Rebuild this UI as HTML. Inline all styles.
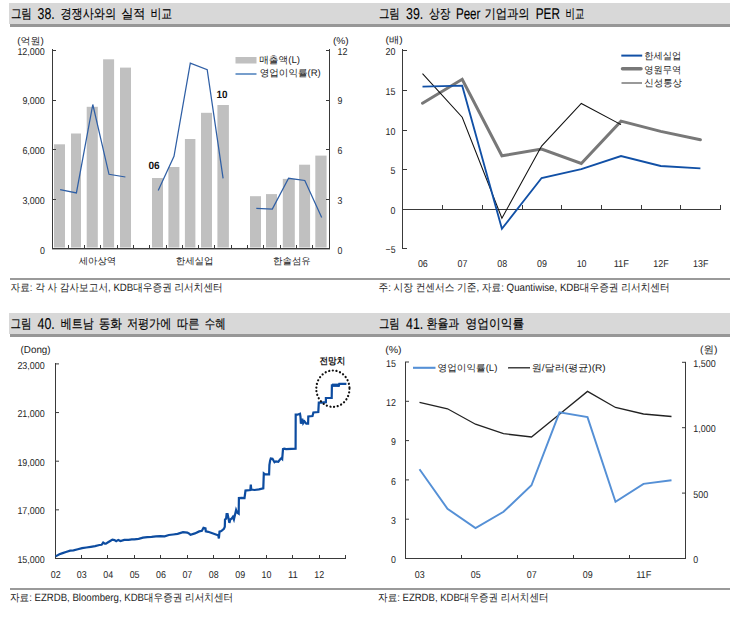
<!DOCTYPE html>
<html><head><meta charset="utf-8"><style>
html,body{margin:0;padding:0;background:#fff;}
body{width:740px;height:617px;overflow:hidden;}
svg{display:block;font-family:'Liberation Sans', sans-serif;text-rendering:geometricPrecision;}
</style></head><body>
<svg width="740" height="617" viewBox="0 0 740 617">
<rect width="740" height="617" fill="#fff"/>
<rect x="9" y="3" width="721" height="21" fill="#d8d8d8"/>
<rect x="10" y="24" width="720" height="3" fill="#979797"/>
<rect x="9" y="313" width="721" height="21" fill="#d8d8d8"/>
<rect x="10" y="334" width="720" height="3" fill="#979797"/>
<text x="10.90" y="18" font-size="13.2" fill="#000" stroke="#000" stroke-width="0.15" textLength="20.90" lengthAdjust="spacingAndGlyphs">그림</text>
<text x="37.60" y="19.3" font-size="15.7" fill="#000" stroke="#000" stroke-width="0.1" textLength="17.10" lengthAdjust="spacingAndGlyphs">38.</text>
<text x="60.40" y="18" font-size="13.2" fill="#000" stroke="#000" stroke-width="0.15" textLength="55.70" lengthAdjust="spacingAndGlyphs">경쟁사와의</text>
<text x="121.20" y="18" font-size="13.2" fill="#000" stroke="#000" stroke-width="0.15" textLength="24.10" lengthAdjust="spacingAndGlyphs">실적</text>
<text x="150.40" y="18" font-size="13.2" fill="#000" stroke="#000" stroke-width="0.15" textLength="21.70" lengthAdjust="spacingAndGlyphs">비교</text>
<text x="378.90" y="18" font-size="13.2" fill="#000" stroke="#000" stroke-width="0.15" textLength="20.90" lengthAdjust="spacingAndGlyphs">그림</text>
<text x="406.10" y="19.3" font-size="15.7" fill="#000" stroke="#000" stroke-width="0.1" textLength="17.20" lengthAdjust="spacingAndGlyphs">39.</text>
<text x="429.00" y="18" font-size="13.2" fill="#000" stroke="#000" stroke-width="0.15" textLength="21.40" lengthAdjust="spacingAndGlyphs">상장</text>
<text x="455.90" y="19.3" font-size="15.7" fill="#000" stroke="#000" stroke-width="0.1" textLength="24.50" lengthAdjust="spacingAndGlyphs">Peer</text>
<text x="484.40" y="18" font-size="13.2" fill="#000" stroke="#000" stroke-width="0.15" textLength="45.20" lengthAdjust="spacingAndGlyphs">기업과의</text>
<text x="535.70" y="19.3" font-size="15.7" fill="#000" stroke="#000" stroke-width="0.1" textLength="24.20" lengthAdjust="spacingAndGlyphs">PER</text>
<text x="565.50" y="18" font-size="13.2" fill="#000" stroke="#000" stroke-width="0.15" textLength="18.80" lengthAdjust="spacingAndGlyphs">비교</text>
<text x="10.60" y="328.2" font-size="13.2" fill="#000" stroke="#000" stroke-width="0.15" textLength="20.90" lengthAdjust="spacingAndGlyphs">그림</text>
<text x="37.60" y="329.1" font-size="15.7" fill="#000" stroke="#000" stroke-width="0.1" textLength="17.20" lengthAdjust="spacingAndGlyphs">40.</text>
<text x="60.70" y="328.2" font-size="13.2" fill="#000" stroke="#000" stroke-width="0.15" textLength="33.00" lengthAdjust="spacingAndGlyphs">베트남</text>
<text x="98.70" y="328.2" font-size="13.2" fill="#000" stroke="#000" stroke-width="0.15" textLength="23.30" lengthAdjust="spacingAndGlyphs">동화</text>
<text x="126.90" y="328.2" font-size="13.2" fill="#000" stroke="#000" stroke-width="0.15" textLength="44.40" lengthAdjust="spacingAndGlyphs">저평가에</text>
<text x="177.10" y="328.2" font-size="13.2" fill="#000" stroke="#000" stroke-width="0.15" textLength="22.50" lengthAdjust="spacingAndGlyphs">따른</text>
<text x="204.70" y="328.2" font-size="13.2" fill="#000" stroke="#000" stroke-width="0.15" textLength="20.90" lengthAdjust="spacingAndGlyphs">수혜</text>
<text x="379.00" y="328.2" font-size="13.2" fill="#000" stroke="#000" stroke-width="0.15" textLength="20.70" lengthAdjust="spacingAndGlyphs">그림</text>
<text x="406.10" y="329.1" font-size="15.7" fill="#000" stroke="#000" stroke-width="0.1" textLength="17.20" lengthAdjust="spacingAndGlyphs">41.</text>
<text x="426.60" y="328.2" font-size="13.2" fill="#000" stroke="#000" stroke-width="0.15" textLength="32.60" lengthAdjust="spacingAndGlyphs">환율과</text>
<text x="465.50" y="328.2" font-size="13.2" fill="#000" stroke="#000" stroke-width="0.15" textLength="58.60" lengthAdjust="spacingAndGlyphs">영업이익률</text>
<rect x="10" y="278" width="720" height="2" fill="#9a9a9a"/>
<rect x="10" y="588" width="720" height="2" fill="#9a9a9a"/>
<text x="10.50" y="291.18" font-size="10.65" font-weight="normal" fill="#222" textLength="212.20" lengthAdjust="spacingAndGlyphs">자료: 각 사 감사보고서, KDB대우증권 리서치센터</text>
<text x="378.50" y="291.18" font-size="10.65" font-weight="normal" fill="#222" textLength="291.20" lengthAdjust="spacingAndGlyphs">주: 시장 컨센서스 기준, 자료: Quantiwise, KDB대우증권 리서치센터</text>
<text x="10.00" y="601.40" font-size="10.54" font-weight="normal" fill="#222" textLength="223.10" lengthAdjust="spacingAndGlyphs">자료: EZRDB, Bloomberg, KDB대우증권 리서치센터</text>
<text x="378.10" y="601.40" font-size="10.54" font-weight="normal" fill="#222" textLength="170.40" lengthAdjust="spacingAndGlyphs">자료: EZRDB, KDB대우증권 리서치센터</text>
<rect x="54" y="144.3" width="11.00" height="103.20" fill="#c0c0c0"/>
<rect x="71" y="133.5" width="10.00" height="114.00" fill="#c0c0c0"/>
<rect x="86.7" y="106.8" width="11.10" height="140.70" fill="#c0c0c0"/>
<rect x="103.1" y="59.3" width="11.00" height="188.20" fill="#c0c0c0"/>
<rect x="120" y="67.6" width="11.00" height="179.90" fill="#c0c0c0"/>
<rect x="152" y="178" width="11.00" height="69.50" fill="#c0c0c0"/>
<rect x="168.4" y="167" width="11.00" height="80.50" fill="#c0c0c0"/>
<rect x="184.9" y="139" width="10.50" height="108.50" fill="#c0c0c0"/>
<rect x="201" y="112.8" width="11.00" height="134.70" fill="#c0c0c0"/>
<rect x="217.4" y="105" width="11.50" height="142.50" fill="#c0c0c0"/>
<rect x="250" y="196.2" width="11.00" height="51.30" fill="#c0c0c0"/>
<rect x="266" y="194.1" width="11.00" height="53.40" fill="#c0c0c0"/>
<rect x="282.8" y="178.9" width="12.00" height="68.60" fill="#c0c0c0"/>
<rect x="299.1" y="164.7" width="11.00" height="82.80" fill="#c0c0c0"/>
<rect x="315.3" y="155.6" width="11.30" height="91.90" fill="#c0c0c0"/>
<rect x="52" y="49" width="1" height="200" fill="#3a3a3a"/>
<rect x="329" y="49" width="1" height="200" fill="#3a3a3a"/>
<rect x="52" y="248" width="278" height="1.4" fill="#3a3a3a"/>
<rect x="52" y="50" width="4" height="1" fill="#3a3a3a"/>
<rect x="326" y="50" width="4" height="1" fill="#3a3a3a"/>
<rect x="52" y="100" width="4" height="1" fill="#3a3a3a"/>
<rect x="326" y="100" width="4" height="1" fill="#3a3a3a"/>
<rect x="52" y="149" width="4" height="1" fill="#3a3a3a"/>
<rect x="326" y="149" width="4" height="1" fill="#3a3a3a"/>
<rect x="52" y="199" width="4" height="1" fill="#3a3a3a"/>
<rect x="326" y="199" width="4" height="1" fill="#3a3a3a"/>
<rect x="68" y="245" width="1" height="3" fill="#3a3a3a"/>
<rect x="84" y="245" width="1" height="3" fill="#3a3a3a"/>
<rect x="100" y="245" width="1" height="3" fill="#3a3a3a"/>
<rect x="117" y="245" width="1" height="3" fill="#3a3a3a"/>
<rect x="133" y="245" width="1" height="3" fill="#3a3a3a"/>
<rect x="149" y="245" width="1" height="3" fill="#3a3a3a"/>
<rect x="166" y="245" width="1" height="3" fill="#3a3a3a"/>
<rect x="182" y="245" width="1" height="3" fill="#3a3a3a"/>
<rect x="198" y="245" width="1" height="3" fill="#3a3a3a"/>
<rect x="214" y="245" width="1" height="3" fill="#3a3a3a"/>
<rect x="231" y="245" width="1" height="3" fill="#3a3a3a"/>
<rect x="247" y="245" width="1" height="3" fill="#3a3a3a"/>
<rect x="263" y="245" width="1" height="3" fill="#3a3a3a"/>
<rect x="280" y="245" width="1" height="3" fill="#3a3a3a"/>
<rect x="296" y="245" width="1" height="3" fill="#3a3a3a"/>
<rect x="312" y="245" width="1" height="3" fill="#3a3a3a"/>
<polyline points="60.1,189.6 76.4,192.9 92.8,104.5 109.0,174.3 125.4,177.0" fill="none" stroke="#2f5fa5" stroke-width="1.25" stroke-linejoin="miter" />
<polyline points="158.2,190.4 174.0,156.3 190.3,63.1 207.2,69.6 223.1,178.4" fill="none" stroke="#2f5fa5" stroke-width="1.25" stroke-linejoin="miter" />
<polyline points="256.3,208.3 272.3,209.0 288.6,178.3 304.8,180.5 321.7,217.4" fill="none" stroke="#2f5fa5" stroke-width="1.25" stroke-linejoin="miter" />
<text x="44.8" y="253.6" font-size="10" text-anchor="end" font-weight="normal" fill="#262626" textLength="4.9" lengthAdjust="spacingAndGlyphs">0</text>
<text x="44.8" y="203.85" font-size="10" text-anchor="end" font-weight="normal" fill="#262626" textLength="22.4" lengthAdjust="spacingAndGlyphs">3,000</text>
<text x="44.8" y="154.1" font-size="10" text-anchor="end" font-weight="normal" fill="#262626" textLength="22.4" lengthAdjust="spacingAndGlyphs">6,000</text>
<text x="44.8" y="104.35" font-size="10" text-anchor="end" font-weight="normal" fill="#262626" textLength="22.4" lengthAdjust="spacingAndGlyphs">9,000</text>
<text x="44.8" y="54.6" font-size="10" text-anchor="end" font-weight="normal" fill="#262626" textLength="27.4" lengthAdjust="spacingAndGlyphs">12,000</text>
<text x="337.5" y="253.6" font-size="10" text-anchor="start" font-weight="normal" fill="#262626" textLength="4.9" lengthAdjust="spacingAndGlyphs">0</text>
<text x="337.5" y="203.85" font-size="10" text-anchor="start" font-weight="normal" fill="#262626" textLength="4.9" lengthAdjust="spacingAndGlyphs">3</text>
<text x="337.5" y="154.1" font-size="10" text-anchor="start" font-weight="normal" fill="#262626" textLength="4.9" lengthAdjust="spacingAndGlyphs">6</text>
<text x="337.5" y="104.35" font-size="10" text-anchor="start" font-weight="normal" fill="#262626" textLength="4.9" lengthAdjust="spacingAndGlyphs">9</text>
<text x="337.5" y="54.6" font-size="10" text-anchor="start" font-weight="normal" fill="#262626" textLength="9.9" lengthAdjust="spacingAndGlyphs">12</text>
<text x="17.20" y="43.66" font-size="9.67" font-weight="normal" fill="#222" textLength="26.60" lengthAdjust="spacingAndGlyphs">(억원)</text>
<text x="332.90" y="43.58" font-size="9.57" font-weight="normal" fill="#222" textLength="15.80" lengthAdjust="spacingAndGlyphs">(%)</text>
<text x="148.4" y="168.7" font-size="10.5" text-anchor="start" font-weight="bold" fill="#111" textLength="11.2" lengthAdjust="spacingAndGlyphs">06</text>
<text x="216.5" y="97.8" font-size="10.5" text-anchor="start" font-weight="bold" fill="#111" textLength="11.0" lengthAdjust="spacingAndGlyphs">10</text>
<text x="78.70" y="263.70" font-size="9.46" font-weight="normal" fill="#222" textLength="37.50" lengthAdjust="spacingAndGlyphs">세아상역</text>
<text x="175.70" y="263.70" font-size="9.46" font-weight="normal" fill="#222" textLength="37.80" lengthAdjust="spacingAndGlyphs">한세실업</text>
<text x="273.00" y="263.70" font-size="9.46" font-weight="normal" fill="#222" textLength="37.80" lengthAdjust="spacingAndGlyphs">한솔섬유</text>
<rect x="235.5" y="57" width="21" height="6.5" fill="#c0c0c0"/>
<line x1="235.5" y1="74" x2="256.5" y2="74" stroke="#4a7ebb" stroke-width="1.5"/>
<text x="259.20" y="63.04" font-size="9.78" font-weight="normal" fill="#222" textLength="40.80" lengthAdjust="spacingAndGlyphs">매출액(L)</text>
<text x="259.70" y="76.48" font-size="9.57" font-weight="normal" fill="#222" textLength="61.10" lengthAdjust="spacingAndGlyphs">영업이익률(R)</text>
<rect x="402" y="49" width="1" height="200" fill="#3a3a3a"/>
<rect x="402" y="209" width="319" height="1" fill="#3a3a3a"/>
<rect x="402" y="50" width="5" height="1" fill="#3a3a3a"/>
<text x="395.5" y="54.8" font-size="10" text-anchor="end" font-weight="normal" fill="#262626" textLength="9.9" lengthAdjust="spacingAndGlyphs">20</text>
<rect x="402" y="90" width="5" height="1" fill="#3a3a3a"/>
<text x="395.5" y="94.8" font-size="10" text-anchor="end" font-weight="normal" fill="#262626" textLength="9.9" lengthAdjust="spacingAndGlyphs">15</text>
<rect x="402" y="130" width="5" height="1" fill="#3a3a3a"/>
<text x="395.5" y="134.8" font-size="10" text-anchor="end" font-weight="normal" fill="#262626" textLength="9.9" lengthAdjust="spacingAndGlyphs">10</text>
<rect x="402" y="169" width="5" height="1" fill="#3a3a3a"/>
<text x="395.5" y="173.8" font-size="10" text-anchor="end" font-weight="normal" fill="#262626" textLength="4.9" lengthAdjust="spacingAndGlyphs">5</text>
<rect x="402" y="209" width="5" height="1" fill="#3a3a3a"/>
<text x="395.5" y="213.8" font-size="10" text-anchor="end" font-weight="normal" fill="#262626" textLength="4.9" lengthAdjust="spacingAndGlyphs">0</text>
<rect x="402" y="248" width="5" height="1" fill="#3a3a3a"/>
<text x="395.5" y="252.8" font-size="10" text-anchor="end" font-weight="normal" fill="#262626" textLength="9.9" lengthAdjust="spacingAndGlyphs">−5</text>
<rect x="442" y="205" width="1" height="4" fill="#3a3a3a"/>
<rect x="482" y="205" width="1" height="4" fill="#3a3a3a"/>
<rect x="522" y="205" width="1" height="4" fill="#3a3a3a"/>
<rect x="561" y="205" width="1" height="4" fill="#3a3a3a"/>
<rect x="601" y="205" width="1" height="4" fill="#3a3a3a"/>
<rect x="641" y="205" width="1" height="4" fill="#3a3a3a"/>
<rect x="680" y="205" width="1" height="4" fill="#3a3a3a"/>
<rect x="720" y="205" width="1" height="4" fill="#3a3a3a"/>
<text x="422.84499999999997" y="267.2" font-size="10" text-anchor="middle" font-weight="normal" fill="#262626" textLength="9.9" lengthAdjust="spacingAndGlyphs">06</text>
<text x="462.535" y="267.2" font-size="10" text-anchor="middle" font-weight="normal" fill="#262626" textLength="9.9" lengthAdjust="spacingAndGlyphs">07</text>
<text x="502.22499999999997" y="267.2" font-size="10" text-anchor="middle" font-weight="normal" fill="#262626" textLength="9.9" lengthAdjust="spacingAndGlyphs">08</text>
<text x="541.915" y="267.2" font-size="10" text-anchor="middle" font-weight="normal" fill="#262626" textLength="9.9" lengthAdjust="spacingAndGlyphs">09</text>
<text x="581.6049999999999" y="267.2" font-size="10" text-anchor="middle" font-weight="normal" fill="#262626" textLength="9.9" lengthAdjust="spacingAndGlyphs">10</text>
<text x="621.295" y="267.2" font-size="10" text-anchor="middle" font-weight="normal" fill="#262626" textLength="15.3" lengthAdjust="spacingAndGlyphs">11F</text>
<text x="660.9849999999999" y="267.2" font-size="10" text-anchor="middle" font-weight="normal" fill="#262626" textLength="15.3" lengthAdjust="spacingAndGlyphs">12F</text>
<text x="700.675" y="267.2" font-size="10" text-anchor="middle" font-weight="normal" fill="#262626" textLength="15.3" lengthAdjust="spacingAndGlyphs">13F</text>
<text x="385.60" y="43.08" font-size="9.57" font-weight="normal" fill="#222" textLength="17.20" lengthAdjust="spacingAndGlyphs">(배)</text>
<polyline points="422.5,103.2 462.2,79.3 501.9,155.8 541.6,149.0 581.3,163.5 621.0,121.1 660.7,131.4 700.4,139.7" fill="none" stroke="#787878" stroke-width="3" stroke-linejoin="miter" stroke-linecap="round"/>
<polyline points="422.5,73.7 462.2,117.2 501.9,218.2 541.6,146.1 581.3,103.5 621.0,124.6" fill="none" stroke="#111" stroke-width="1.05" stroke-linejoin="miter" />
<polyline points="422.5,86.6 462.2,85.7 501.9,228.8 541.6,178.0 581.3,169.2 621.0,156.0 660.7,166.0 700.4,168.4" fill="none" stroke="#1150a6" stroke-width="1.85" stroke-linejoin="miter" />
<line x1="621.3" y1="55.6" x2="642.2" y2="55.6" stroke="#1150a6" stroke-width="2"/>
<line x1="622.5" y1="68.8" x2="641" y2="68.8" stroke="#787878" stroke-width="3.5" stroke-linecap="round"/>
<line x1="621.5" y1="83" x2="642" y2="83" stroke="#777" stroke-width="1.5"/>
<text x="644.30" y="59.08" font-size="9.57" font-weight="normal" fill="#222" textLength="37.00" lengthAdjust="spacingAndGlyphs">한세실업</text>
<text x="644.30" y="72.56" font-size="9.67" font-weight="normal" fill="#222" textLength="37.00" lengthAdjust="spacingAndGlyphs">영원무역</text>
<text x="644.30" y="85.68" font-size="9.57" font-weight="normal" fill="#222" textLength="37.70" lengthAdjust="spacingAndGlyphs">신성통상</text>
<rect x="55" y="363" width="1" height="196" fill="#3a3a3a"/>
<rect x="55" y="558" width="291" height="1" fill="#3a3a3a"/>
<line x1="55" y1="558.5" x2="59" y2="558.5" stroke="#3a3a3a" stroke-width="1"/>
<text x="44.8" y="563.1" font-size="10" text-anchor="end" font-weight="normal" fill="#262626" textLength="27.4" lengthAdjust="spacingAndGlyphs">15,000</text>
<line x1="55" y1="509.85" x2="59" y2="509.85" stroke="#3a3a3a" stroke-width="1"/>
<text x="44.8" y="514.45" font-size="10" text-anchor="end" font-weight="normal" fill="#262626" textLength="27.4" lengthAdjust="spacingAndGlyphs">17,000</text>
<line x1="55" y1="461.2" x2="59" y2="461.2" stroke="#3a3a3a" stroke-width="1"/>
<text x="44.8" y="465.8" font-size="10" text-anchor="end" font-weight="normal" fill="#262626" textLength="27.4" lengthAdjust="spacingAndGlyphs">19,000</text>
<line x1="55" y1="412.55" x2="59" y2="412.55" stroke="#3a3a3a" stroke-width="1"/>
<text x="44.8" y="417.15000000000003" font-size="10" text-anchor="end" font-weight="normal" fill="#262626" textLength="27.4" lengthAdjust="spacingAndGlyphs">21,000</text>
<line x1="55" y1="363.9" x2="59" y2="363.9" stroke="#3a3a3a" stroke-width="1"/>
<text x="44.8" y="368.5" font-size="10" text-anchor="end" font-weight="normal" fill="#262626" textLength="27.4" lengthAdjust="spacingAndGlyphs">23,000</text>
<line x1="81.5" y1="558" x2="81.5" y2="555" stroke="#3a3a3a" stroke-width="1"/>
<line x1="107.5" y1="558" x2="107.5" y2="555" stroke="#3a3a3a" stroke-width="1"/>
<line x1="134.5" y1="558" x2="134.5" y2="555" stroke="#3a3a3a" stroke-width="1"/>
<line x1="160.5" y1="558" x2="160.5" y2="555" stroke="#3a3a3a" stroke-width="1"/>
<line x1="187.5" y1="558" x2="187.5" y2="555" stroke="#3a3a3a" stroke-width="1"/>
<line x1="213.5" y1="558" x2="213.5" y2="555" stroke="#3a3a3a" stroke-width="1"/>
<line x1="239.5" y1="558" x2="239.5" y2="555" stroke="#3a3a3a" stroke-width="1"/>
<line x1="266.5" y1="558" x2="266.5" y2="555" stroke="#3a3a3a" stroke-width="1"/>
<line x1="292.5" y1="558" x2="292.5" y2="555" stroke="#3a3a3a" stroke-width="1"/>
<line x1="319.5" y1="558" x2="319.5" y2="555" stroke="#3a3a3a" stroke-width="1"/>
<line x1="345.5" y1="558" x2="345.5" y2="555" stroke="#3a3a3a" stroke-width="1"/>
<text x="55.699999999999996" y="577.8" font-size="10" text-anchor="middle" font-weight="normal" fill="#262626" textLength="9.9" lengthAdjust="spacingAndGlyphs">02</text>
<text x="81.8" y="577.8" font-size="10" text-anchor="middle" font-weight="normal" fill="#262626" textLength="9.9" lengthAdjust="spacingAndGlyphs">03</text>
<text x="108.19" y="577.8" font-size="10" text-anchor="middle" font-weight="normal" fill="#262626" textLength="9.9" lengthAdjust="spacingAndGlyphs">04</text>
<text x="134.58" y="577.8" font-size="10" text-anchor="middle" font-weight="normal" fill="#262626" textLength="9.9" lengthAdjust="spacingAndGlyphs">05</text>
<text x="160.97000000000003" y="577.8" font-size="10" text-anchor="middle" font-weight="normal" fill="#262626" textLength="9.9" lengthAdjust="spacingAndGlyphs">06</text>
<text x="187.36" y="577.8" font-size="10" text-anchor="middle" font-weight="normal" fill="#262626" textLength="9.9" lengthAdjust="spacingAndGlyphs">07</text>
<text x="213.75" y="577.8" font-size="10" text-anchor="middle" font-weight="normal" fill="#262626" textLength="9.9" lengthAdjust="spacingAndGlyphs">08</text>
<text x="240.14000000000001" y="577.8" font-size="10" text-anchor="middle" font-weight="normal" fill="#262626" textLength="9.9" lengthAdjust="spacingAndGlyphs">09</text>
<text x="266.53000000000003" y="577.8" font-size="10" text-anchor="middle" font-weight="normal" fill="#262626" textLength="9.9" lengthAdjust="spacingAndGlyphs">10</text>
<text x="292.92" y="577.8" font-size="10" text-anchor="middle" font-weight="normal" fill="#262626" textLength="9.9" lengthAdjust="spacingAndGlyphs">11</text>
<text x="319.31" y="577.8" font-size="10" text-anchor="middle" font-weight="normal" fill="#262626" textLength="9.9" lengthAdjust="spacingAndGlyphs">12</text>
<text x="20.60" y="353.38" font-size="10.11" font-weight="normal" fill="#222" textLength="30.00" lengthAdjust="spacingAndGlyphs">(Dong)</text>
<polyline points="55.6,556.4 59.4,554.2 62.6,553.1 65.9,552.0 70.2,550.6 73.5,550.4 77.8,549.3 82.1,548.2 86.4,547.5 90.8,546.8 95.1,546.1 99.4,545.0 101.6,544.8 103.2,542.5 104.8,543.6 105.9,543.6 108.1,542.3 110.2,541.0 112.4,539.6 114.5,540.1 116.2,541.2 118.3,539.9 120.5,541.0 124.3,539.9 128.6,539.9 131.8,539.3 134.3,539.3 138.6,538.8 143.0,537.7 147.3,537.2 151.6,536.9 155.9,536.4 160.3,536.1 164.6,536.3 168.9,535.0 173.2,534.5 177.6,533.9 183.0,532.1 187.3,532.6 188.9,533.4 190.5,534.8 194.9,533.4 199.2,531.4 201.9,530.7 203.5,527.8 205.5,528.4 205.8,531.4 208.2,531.8 212.4,533.2 216.6,534.7 218.2,535.3 218.9,538.4 219.5,531.6 221.3,531.1 223.9,528.9 224.8,526.8 225.0,519.5 226.1,518.7 226.6,514.2 227.6,514.2 228.4,517.9 229.4,522.9 230.3,519.5 231.8,518.4 232.9,516.8 233.9,519.5 235.0,514.7 236.1,510.0 237.1,512.6 238.7,513.7 238.9,498.1 241.8,497.9 244.5,498.1 245.5,490.5 247.1,490.3 250.3,490.0 250.8,484.7 251.3,489.5 254.5,490.0 258.9,489.3 263.3,488.3 263.8,473.4 265.2,474.4 269.1,474.4 269.4,465.2 270.1,460.8 270.8,458.5 272.5,458.8 274.5,462.2 275.9,461.3 278.3,461.8 279.8,459.8 281.3,458.3 282.2,459.1 283.0,449.1 284.2,448.6 286.1,449.1 295.6,448.6 295.7,414.7 297.4,414.7 300.0,413.8 300.5,416.9 300.9,423.6 302.3,418.7 303.2,423.2 304.5,421.4 306.3,423.6 308.1,423.6 308.3,416.5 312.5,416.0 313.4,412.5 318.3,412.0 318.8,402.7 321.4,402.7 325.9,402.2 325.9,398.0 331.7,398.0 331.9,385.3 336.6,385.5 338.8,385.7 339.3,383.9 346.4,383.9" fill="none" stroke="#0d4ca0" stroke-width="2.2" stroke-linejoin="miter" stroke-linejoin="round"/>
<line x1="332" y1="385.2" x2="339" y2="385.2" stroke="#0d4ca0" stroke-width="3.2"/>
<ellipse cx="332.9" cy="388.7" rx="16.6" ry="18.2" fill="none" stroke="#111" stroke-width="2.2" stroke-dasharray="0.1 3.6" stroke-linecap="round"/>
<text x="319.50" y="363.60" font-size="9.46" font-weight="bold" fill="#111" textLength="25.70" lengthAdjust="spacingAndGlyphs">전망치</text>
<rect x="405" y="362" width="1" height="197" fill="#3a3a3a"/>
<rect x="685" y="362" width="1" height="197" fill="#3a3a3a"/>
<rect x="405" y="558" width="281" height="1" fill="#3a3a3a"/>
<line x1="405" y1="558.5" x2="409" y2="558.5" stroke="#3a3a3a" stroke-width="1"/>
<text x="396" y="563.1" font-size="10" text-anchor="end" font-weight="normal" fill="#262626" textLength="4.9" lengthAdjust="spacingAndGlyphs">0</text>
<line x1="405" y1="519.2" x2="409" y2="519.2" stroke="#3a3a3a" stroke-width="1"/>
<text x="396" y="523.8000000000001" font-size="10" text-anchor="end" font-weight="normal" fill="#262626" textLength="4.9" lengthAdjust="spacingAndGlyphs">3</text>
<line x1="405" y1="479.9" x2="409" y2="479.9" stroke="#3a3a3a" stroke-width="1"/>
<text x="396" y="484.5" font-size="10" text-anchor="end" font-weight="normal" fill="#262626" textLength="4.9" lengthAdjust="spacingAndGlyphs">6</text>
<line x1="405" y1="440.6" x2="409" y2="440.6" stroke="#3a3a3a" stroke-width="1"/>
<text x="396" y="445.20000000000005" font-size="10" text-anchor="end" font-weight="normal" fill="#262626" textLength="4.9" lengthAdjust="spacingAndGlyphs">9</text>
<line x1="405" y1="401.3" x2="409" y2="401.3" stroke="#3a3a3a" stroke-width="1"/>
<text x="396" y="405.90000000000003" font-size="10" text-anchor="end" font-weight="normal" fill="#262626" textLength="9.9" lengthAdjust="spacingAndGlyphs">12</text>
<line x1="405" y1="362.0" x2="409" y2="362.0" stroke="#3a3a3a" stroke-width="1"/>
<text x="396" y="366.6" font-size="10" text-anchor="end" font-weight="normal" fill="#262626" textLength="9.9" lengthAdjust="spacingAndGlyphs">15</text>
<line x1="686" y1="558.5" x2="682" y2="558.5" stroke="#3a3a3a" stroke-width="1"/>
<text x="693.3" y="563.1" font-size="10" text-anchor="start" font-weight="normal" fill="#262626" textLength="4.9" lengthAdjust="spacingAndGlyphs">0</text>
<line x1="686" y1="493.1" x2="682" y2="493.1" stroke="#3a3a3a" stroke-width="1"/>
<text x="693.3" y="497.70000000000005" font-size="10" text-anchor="start" font-weight="normal" fill="#262626" textLength="14.9" lengthAdjust="spacingAndGlyphs">500</text>
<line x1="686" y1="427.7" x2="682" y2="427.7" stroke="#3a3a3a" stroke-width="1"/>
<text x="693.3" y="432.3" font-size="10" text-anchor="start" font-weight="normal" fill="#262626" textLength="22.4" lengthAdjust="spacingAndGlyphs">1,000</text>
<line x1="686" y1="362.3" x2="682" y2="362.3" stroke="#3a3a3a" stroke-width="1"/>
<text x="693.3" y="366.90000000000003" font-size="10" text-anchor="start" font-weight="normal" fill="#262626" textLength="22.4" lengthAdjust="spacingAndGlyphs">1,500</text>
<line x1="461.5" y1="558" x2="461.5" y2="555" stroke="#3a3a3a" stroke-width="1"/>
<line x1="517.5" y1="558" x2="517.5" y2="555" stroke="#3a3a3a" stroke-width="1"/>
<line x1="573.5" y1="558" x2="573.5" y2="555" stroke="#3a3a3a" stroke-width="1"/>
<line x1="629.5" y1="558" x2="629.5" y2="555" stroke="#3a3a3a" stroke-width="1"/>
<text x="419.8" y="577.8" font-size="10" text-anchor="middle" font-weight="normal" fill="#262626" textLength="9.9" lengthAdjust="spacingAndGlyphs">03</text>
<text x="475.8" y="577.8" font-size="10" text-anchor="middle" font-weight="normal" fill="#262626" textLength="9.9" lengthAdjust="spacingAndGlyphs">05</text>
<text x="531.8" y="577.8" font-size="10" text-anchor="middle" font-weight="normal" fill="#262626" textLength="9.9" lengthAdjust="spacingAndGlyphs">07</text>
<text x="587.8" y="577.8" font-size="10" text-anchor="middle" font-weight="normal" fill="#262626" textLength="9.9" lengthAdjust="spacingAndGlyphs">09</text>
<text x="643.8" y="577.8" font-size="10" text-anchor="middle" font-weight="normal" fill="#262626" textLength="15.3" lengthAdjust="spacingAndGlyphs">11F</text>
<text x="385.20" y="353.20" font-size="10.00" font-weight="normal" fill="#222" textLength="16.40" lengthAdjust="spacingAndGlyphs">(%)</text>
<text x="700.00" y="353.06" font-size="10.22" font-weight="normal" fill="#222" textLength="17.50" lengthAdjust="spacingAndGlyphs">(원)</text>
<polyline points="419.5,402.4 447.5,408.8 475.5,424.2 503.5,433.7 531.5,437.0 559.5,414.2 587.5,391.4 615.5,407.5 643.5,414.0 671.5,416.5" fill="none" stroke="#222" stroke-width="1.3" stroke-linejoin="miter" />
<polyline points="419.5,469.3 447.5,508.9 475.5,528.1 503.5,511.8 531.5,485.3 559.5,412.4 587.5,417.1 615.5,501.7 643.5,483.9 671.5,480.2" fill="none" stroke="#5590d6" stroke-width="1.95" stroke-linejoin="miter" />
<line x1="413" y1="367.8" x2="435.5" y2="367.8" stroke="#5590d6" stroke-width="2.1"/>
<line x1="508" y1="367.8" x2="530" y2="367.8" stroke="#222" stroke-width="1.3"/>
<text x="437.60" y="371.28" font-size="9.57" font-weight="normal" fill="#222" textLength="59.80" lengthAdjust="spacingAndGlyphs">영업이익률(L)</text>
<text x="531.70" y="371.28" font-size="9.57" font-weight="normal" fill="#222" textLength="74.00" lengthAdjust="spacingAndGlyphs">원/달러(평균)(R)</text>
</svg>
</body></html>
